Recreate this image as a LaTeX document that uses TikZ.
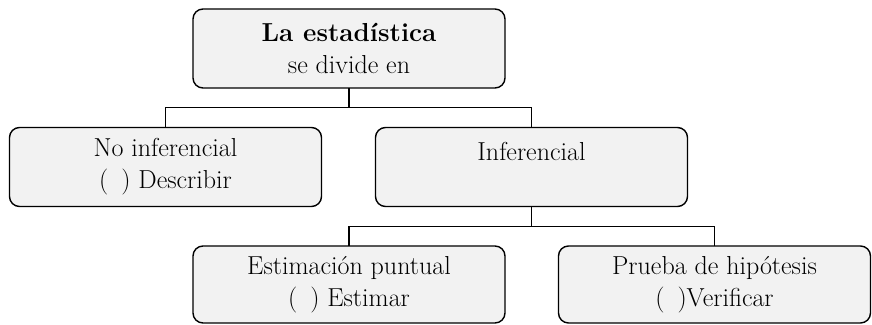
\documentclass[tikz,border=0pt]{standalone}
\usepackage{tikz}
\definecolor{boxgray}{RGB}{242,242,242}
\begin{document}
\begin{tikzpicture}[>=latex,line join=bevel,
  box/.style={draw,rounded corners=10bp,fill=boxgray,line width=1.4bp,
    minimum width=312bp,minimum height=79bp,inner sep=0pt,align=center,
    font=\fontsize{26bp}{32bp}\selectfont},
  link/.style={line width=1.4bp,line join=miter,line cap=rect}]
\useasboundingbox (0bp,0bp) rectangle (872bp,325bp);
%%
\node (node_0) at (349.0bp,276.5bp) [box] {\textbf{La estadística}\\se divide en};
  \node (node_1) at (165.5bp,158.0bp) [box] {No inferencial\\(\enspace) Describir};
  \node (node_2) at (531.5bp,158.0bp) [box] {Inferencial\\\mbox{}};
  \node (node_3) at (349.0bp,40.5bp) [box,minimum height=77bp] {Estimación puntual\\(\enspace) Estimar};
  \node (node_4) at (714.5bp,40.5bp) [box,minimum height=77bp] {Prueba de hipótesis\\(\enspace)Verificar};
%
\coordinate (split_0) at (349.0bp,217.5bp);
  \coordinate (split_1) at (531.5bp,98.5bp);
  \draw [link] (node_0.south) -- (split_0);
  \draw [link] (node_1.north) |- (split_0) -| (node_2.north);
  \draw [link] (node_2.south) -- (split_1);
  \draw [link] (node_3.north) |- (split_1) -| (node_4.north);
%
\end{tikzpicture}
\end{document}
